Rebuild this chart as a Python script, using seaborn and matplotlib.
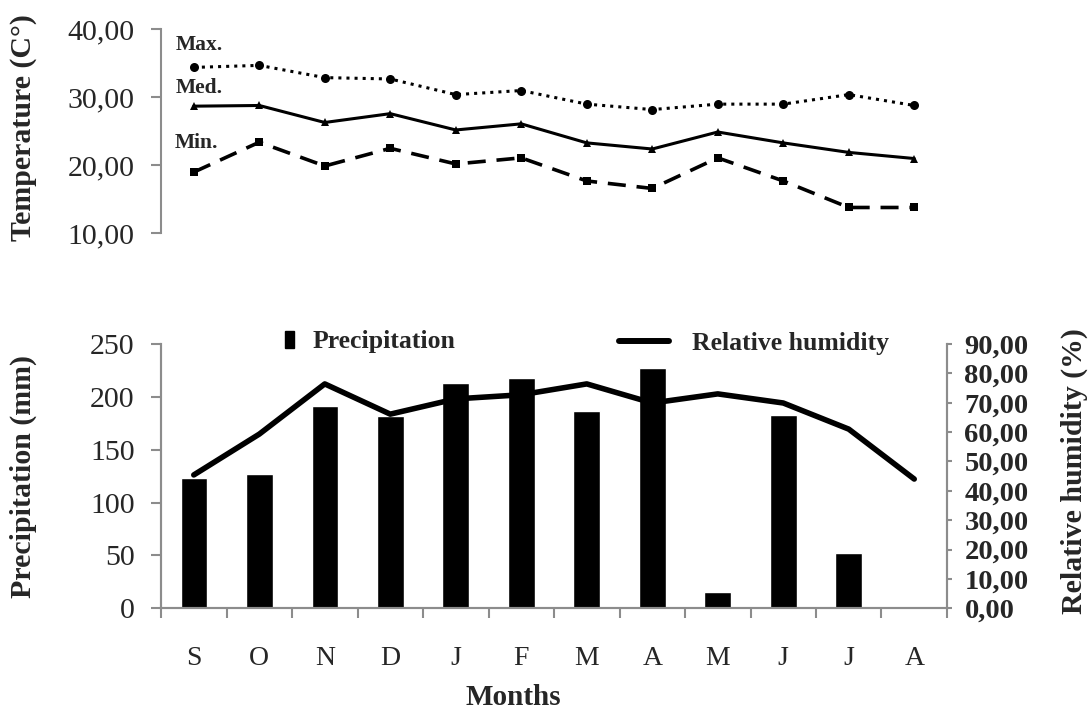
import numpy as np
import pandas as pd
import matplotlib
matplotlib.use('Agg')
import matplotlib.pyplot as plt
import seaborn as sns
from matplotlib.patches import Patch
from matplotlib.lines import Line2D

# 월별 기상 데이터
months = ['S', 'O', 'N', 'D', 'J', 'F', 'M', 'A', 'M', 'J', 'J', 'A']
t_max = [34.4, 34.7, 32.9, 32.7, 30.4, 31.0, 29.0, 28.2, 29.0, 29.0, 30.4, 28.8]
t_med = [28.7, 28.8, 26.3, 27.6, 25.2, 26.1, 23.3, 22.4, 24.9, 23.3, 21.9, 21.0]
t_min = [19.0, 23.4, 19.9, 22.5, 20.2, 21.1, 17.7, 16.6, 21.1, 17.7, 13.8, 13.8]
precip = [123, 127, 191, 182, 213, 218, 187, 227, 15, 183, 52, 0]
humidity = [45.4, 59.3, 76.4, 66.1, 71.3, 72.7, 76.4, 69.9, 73.0, 69.9, 61.0, 44.0]

temp_ticks = [10, 20, 30, 40]
precip_ticks = [0, 50, 100, 150, 200, 250]
hum_ticks = list(range(0, 91, 10))

df = pd.DataFrame({'idx': range(len(months)), 'month': months,
                   'tmax': t_max, 'tmed': t_med, 'tmin': t_min,
                   'precip': precip, 'humidity': humidity})

sns.set_style('white')
plt.rcParams['font.family'] = ['Liberation Serif', 'DejaVu Serif']

gray = '#8c8c8c'
fig = plt.figure(figsize=(10.88, 7.12), dpi=100)

# 위쪽: 기온
ax_t = fig.add_axes([0.148, 0.6723, 0.7224, 0.2865])
sns.lineplot(data=df, x='idx', y='tmax', ax=ax_t, color='black', linestyle=':',
             linewidth=2.2, marker='o', markersize=6.5, markeredgewidth=0)
sns.lineplot(data=df, x='idx', y='tmed', ax=ax_t, color='black', linestyle='-',
             linewidth=2.2, marker='^', markersize=5.5, markeredgewidth=0)
sns.lineplot(data=df, x='idx', y='tmin', ax=ax_t, color='black', linestyle=(0, (5, 3)),
             linewidth=2.6, marker='s', markersize=6, markeredgewidth=0)
ax_t.set_xlim(-0.5, 11.5)
ax_t.set_ylim(10, 40)
ax_t.set_yticks(temp_ticks)
ax_t.set_yticklabels([f'{v:.2f}'.replace('.', ',') for v in temp_ticks], fontsize=21.5)
ax_t.set_xticks([])
ax_t.set_xlabel('')
ax_t.set_ylabel('Temperature (C°)', fontsize=21.5, fontweight='bold')
ax_t.yaxis.set_label_coords(-0.158, 0.518)
for s in ['top', 'right', 'bottom']:
    ax_t.spines[s].set_visible(False)
ax_t.spines['left'].set_color(gray)
ax_t.spines['left'].set_linewidth(1.5)
ax_t.tick_params(axis='y', length=7, width=1.5, color=gray, pad=12, left=True)
ax_t.text(-0.27, 37.7, 'Max.', fontsize=15.5, fontweight='bold', va='center')
ax_t.text(-0.28, 31.4, 'Med.', fontsize=15.5, fontweight='bold', va='center')
ax_t.text(-0.29, 23.3, 'Min.', fontsize=15.5, fontweight='bold', va='center')

# 아래쪽: 강수량 + 상대습도
ax_b = fig.add_axes([0.148, 0.1457, 0.7224, 0.3712])
sns.barplot(data=df, x='idx', y='precip', ax=ax_b, color='black', width=0.405,
            saturation=1, errorbar=None)
ax_b.set_xlim(-0.5, 11.5)
ax_b.set_ylim(0, 250)
ax_b.set_yticks(precip_ticks)
ax_b.set_yticklabels([str(v) for v in precip_ticks], fontsize=21.5)
ax_b.set_xticks(range(len(months)))
ax_b.set_xticklabels(months, fontsize=20)
ax_b.set_xticks(np.arange(-0.5, 12, 1), minor=True)
ax_b.tick_params(axis='x', which='major', length=0, pad=27)
ax_b.tick_params(axis='x', which='minor', length=7, width=1.5, color=gray, bottom=True)
ax_b.tick_params(axis='y', length=7, width=1.5, color=gray, pad=12, left=True)
ax_b.set_ylabel('Precipitation (mm)', fontsize=21.5, fontweight='bold')
ax_b.yaxis.set_label_coords(-0.158, 0.5)
ax_b.set_xlabel('Months', fontsize=21, fontweight='bold')
ax_b.xaxis.set_label_coords(0.448, -0.285)

ax2 = ax_b.twinx()
sns.lineplot(data=df, x='idx', y='humidity', ax=ax2, color='black', linewidth=4.0,
             solid_capstyle='round')
ax2.set_ylim(0, 90)
ax2.set_yticks(hum_ticks)
ax2.set_yticklabels([f'{v:.2f}'.replace('.', ',') for v in hum_ticks],
                    fontsize=20.5, fontweight='bold')
ax2.tick_params(axis='y', length=3.6, width=1.5, color=gray, pad=9, right=True)
ax2.set_ylabel('Relative humidity (%)', fontsize=21.5, fontweight='bold')
ax2.yaxis.set_label_coords(1.144, 0.52)
ax2.set_xlim(-0.5, 11.5)

for a in [ax_b, ax2]:
    a.spines['top'].set_visible(False)
    for s in ['left', 'right', 'bottom']:
        a.spines[s].set_color(gray)
        a.spines[s].set_linewidth(1.5)

# 범례
fig.legend(handles=[Patch(color='black', label='Precipitation')], loc='center',
           bbox_to_anchor=(0.340, 0.5197), frameon=False, handlelength=0.34,
           handleheight=0.6, handletextpad=0.72, prop=dict(weight='bold', size=18.5))
fig.legend(handles=[Line2D([0], [0], color='black', linewidth=4.3,
                           solid_capstyle='round', label='Relative humidity')],
           loc='center', bbox_to_anchor=(0.693, 0.518), frameon=False,
           handlelength=1.97, handletextpad=0.9, prop=dict(weight='bold', size=18.5))

fig.savefig('out.png', dpi=100)
